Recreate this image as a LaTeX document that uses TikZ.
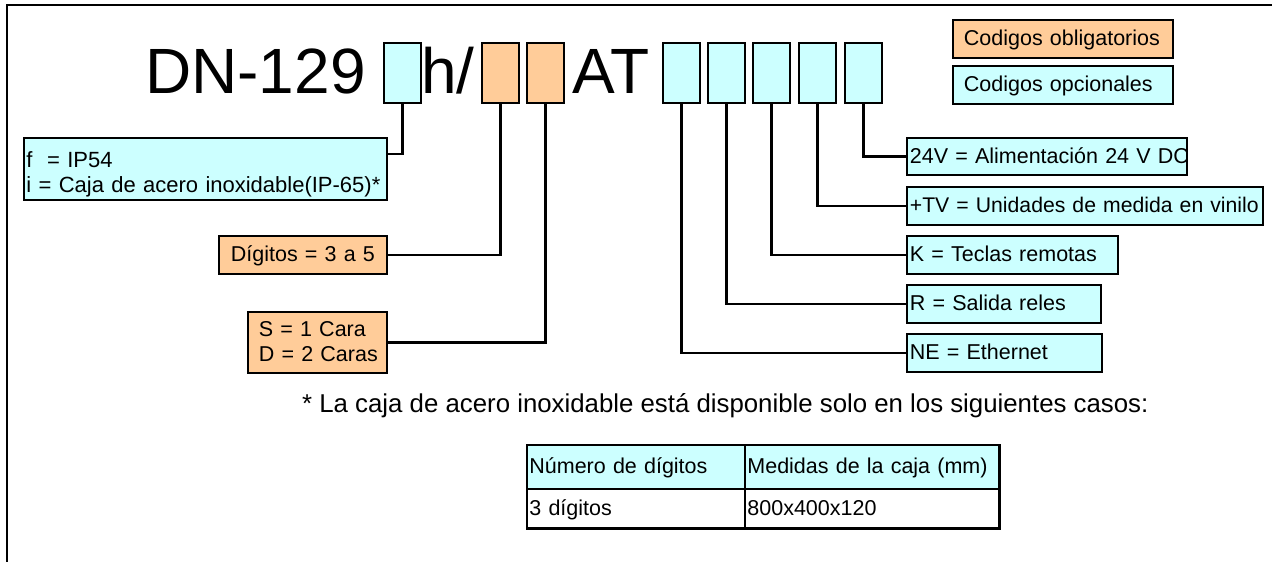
\documentclass[tikz,border=0pt]{standalone}
\usepackage{fontspec}
\setmainfont{Liberation Sans}
\definecolor{cyanbox}{HTML}{CCFFFF}
\definecolor{orangebox}{HTML}{FFCC99}
\newcommand{\labfont}{\fontsize{21.5pt}{24.7pt}\selectfont}
\newcommand{\flabfont}{\fontsize{22pt}{24.7pt}\selectfont}
\newcommand{\tvfont}{\fontsize{21.2pt}{24.7pt}\selectfont}
\newcommand{\titlefont}{\fontsize{64pt}{70pt}\selectfont}
\newcommand{\notefont}{\fontsize{25.8pt}{28pt}\selectfont}
\begin{document}
\begin{tikzpicture}[x=1pt,y=-1pt,
  box/.style={draw=black, line width=1.8pt, anchor=north west, inner ysep=0pt,
    font=\labfont, align=left, text height=15.5pt, text depth=1.8pt},
  cyanb/.style={fill=cyanbox},
  orb/.style={fill=orangebox},
  codebox/.style={draw=black, line width=1.8pt, anchor=north west,
    minimum width=37pt, minimum height=60pt, inner sep=0pt},
  conn/.style={draw=black, line width=2.4pt},
  titletext/.style={anchor=base west, inner sep=0pt, font=\titlefont},
  cell/.style={draw=black, line width=1.8pt, anchor=north west, inner ysep=0pt,
    inner xsep=2.5pt, font=\labfont, align=left, text height=15.5pt, text depth=1.8pt},
]
\useasboundingbox (0,0) rectangle (1272,562);
% frame
\draw[line width=2pt] (7,562) -- (7,5) -- (1272,5);

% title
\node[titletext] (dn) at (145,93) {DN-129};
\node[titletext] (hs) at (421,93) {h/};
\node[titletext] (at) at (572,93) {AT};

% code boxes
\node[codebox,cyanb] (b1) at (383,42) {};
\node[codebox,orb]   (b2) at (481,42) {};
\node[codebox,orb]   (b3) at (526,42) {};
\node[codebox,cyanb] (b4) at (662,42) {};
\node[codebox,cyanb] (b5) at (707,42) {};
\node[codebox,cyanb] (b6) at (752,42) {};
\node[codebox,cyanb] (b7) at (798,42) {};
\node[codebox,cyanb] (b8) at (844,42) {};

% legend
\node[box,orb,inner xsep=11pt,text width=198pt,minimum height=38pt] (lob) at (952,19) {\mbox{Codigos obligatorios}};
\node[box,cyanb,inner xsep=11pt,text width=198pt,minimum height=38pt] (lop) at (952,65) {\mbox{Codigos opcionales}};

% left boxes
\node[box,cyanb,font=\flabfont,inner xsep=2.5pt,text width=358pt,minimum height=62pt,text height=24.2pt,text depth=26.5pt] (fbox) at (23,137)
  {\mbox{f\ \ = IP54}\\\mbox{i = Caja de acero inoxidable(IP-65)*}};
\node[box,orb,inner xsep=12pt,text width=144pt,minimum height=38pt] (dig) at (218,235) {\mbox{Dígitos = 3 a 5}};
\node[box,orb,inner xsep=11pt,text width=117pt,minimum height=61pt,text height=14.5pt,text depth=26.5pt] (sbox) at (247,311)
  {\mbox{S = 1 Cara}\\\mbox{D = 2 Caras}};

% right boxes
\node[box,cyanb,inner xsep=3pt,text width=274pt,minimum height=37pt] (r24) at (906,137) {\mbox{24V = Alimentación 24 V DC}};
\node[box,cyanb,font=\tvfont,inner xsep=3pt,text width=350pt,minimum height=38pt] (rtv) at (906,186) {\mbox{+TV = Unidades de medida en vinilo}};
\node[box,cyanb,inner xsep=3pt,text width=205pt,minimum height=38pt] (rk) at (906,235) {\mbox{K = Teclas remotas}};
\node[box,cyanb,inner xsep=3pt,text width=188pt,minimum height=38pt] (rr) at (906,284) {\mbox{R = Salida reles}};
\node[box,cyanb,inner xsep=3pt,text width=189pt,minimum height=38pt] (rne) at (906,333) {\mbox{NE = Ethernet}};

% connectors
\draw[conn] (b1.south) |- ([yshift=-17pt]fbox.north east);
\draw[conn] (b2.south) |- (dig.east);
\draw[conn] (b3.south) |- (sbox.east);
\draw[conn] (b4.south) |- (rne.west);
\draw[conn] (b5.south) |- (rr.west);
\draw[conn] (b6.south) |- (rk.west);
\draw[conn] (b7.south) |- (rtv.west);
\draw[conn] (b8.south) |- (r24.west);

% footnote
\node[anchor=base west,inner sep=0pt,font=\notefont] (note) at (302,412)
  {* La caja de acero inoxidable está disponible solo en los siguientes casos:};

% table
\node[cell,fill=cyanbox,text width=213pt,minimum height=44pt] (t11) at (526,444) {\mbox{Número de dígitos}};
\node[cell,fill=cyanbox,text width=249pt,minimum height=44pt] (t12) at (744,444) {\mbox{Medidas de la caja (mm)}};
\node[cell,text width=213pt,minimum height=39pt] (t21) at (526,488) {\mbox{3 dígitos}};
\node[cell,text width=249pt,minimum height=39pt] (t22) at (744,488) {\mbox{800x400x120}};
\draw[line width=3pt] (t12.north east) -- (t22.south east) -- (t21.south west);
\end{tikzpicture}
\end{document}
